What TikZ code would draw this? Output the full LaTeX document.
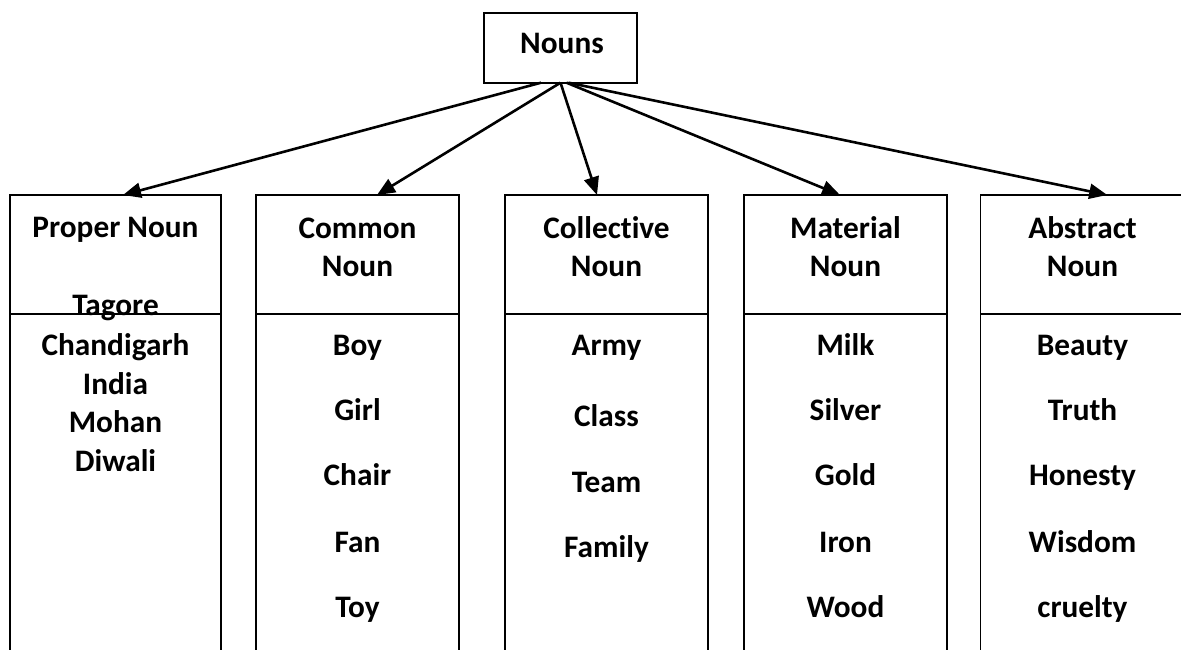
\documentclass[tikz,border=0pt]{standalone}
\usepackage{fontspec}
\setmainfont{Carlito}[Ligatures=NoCommon]
\usetikzlibrary{arrows.meta}
\tikzset{
  frame/.style={draw=black, line width=1.8pt, inner sep=0pt, outer sep=0pt},
  side/.style={draw=black, line width=1.8pt},
  txt/.style={font=\fontsize{31.3}{38}\selectfont\bfseries, anchor=base, inner sep=0pt, outer sep=0pt},
  conn/.style={line width=2.6pt, -{Triangle[length=18pt,width=15pt]}}
}
\begin{document}
\begin{tikzpicture}[x=1pt,y=-1pt]
\useasboundingbox (0,0) rectangle (1181,650);
\clip (0,0) rectangle (1181,650);

% top node
\node[frame, minimum width=153pt, minimum height=70pt] (nouns) at (560.5,47.7) {};
\node[txt] (nounsT) at (562,54) {Nouns};

% column texts
\node[txt] (t1a) at (115.5,237.5) {Proper Noun};
\node[txt] (t1b) at (115.5,315) {Tagore};
\node[txt] (t1c) at (115.5,355) {Chandigarh};
\node[txt] (t1d) at (115.5,394) {India};
\node[txt] (t1e) at (115.5,432.5) {Mohan};
\node[txt] (t1f) at (115.5,471) {Diwali};

\node[txt] (t2a) at (357.5,238) {Common};
\node[txt] (t2b) at (357.5,276) {Noun};
\node[txt] (t2c) at (357.5,355) {Boy};
\node[txt] (t2d) at (357.5,420) {Girl};
\node[txt] (t2e) at (357.5,485) {Chair};
\node[txt] (t2f) at (357.5,552) {Fan};
\node[txt] (t2g) at (357.5,617) {Toy};

\node[txt] (t3a) at (606.5,238) {Collective};
\node[txt] (t3b) at (606.5,276) {Noun};
\node[txt] (t3c) at (606.5,355) {Army};
\node[txt] (t3d) at (606.5,426) {Class};
\node[txt] (t3e) at (606.5,492) {Team};
\node[txt] (t3f) at (606.5,557) {Family};

\node[txt] (t4a) at (845.5,238) {Material};
\node[txt] (t4b) at (845.5,276) {Noun};
\node[txt] (t4c) at (845.5,355) {Milk};
\node[txt] (t4d) at (845.5,420) {Silver};
\node[txt] (t4e) at (845.5,485) {Gold};
\node[txt] (t4f) at (845.5,552) {Iron};
\node[txt] (t4g) at (845.5,617) {Wood};

\node[txt] (t5a) at (1082.5,238) {Abstract};
\node[txt] (t5b) at (1082.5,276) {Noun};
\node[txt] (t5c) at (1082.5,355) {Beauty};
\node[txt] (t5d) at (1082.5,420) {Truth};
\node[txt] (t5e) at (1082.5,485) {Honesty};
\node[txt] (t5f) at (1082.5,552) {Wisdom};
\node[txt] (t5g) at (1082.5,617) {cruelty};

% column header boxes
\node[frame, minimum width=211pt, minimum height=119pt] (c1) at (115.5,254.5) {};
\node[frame, minimum width=203pt, minimum height=119pt] (c2) at (357.5,254.5) {};
\node[frame, minimum width=203pt, minimum height=119pt] (c3) at (606.5,254.5) {};
\node[frame, minimum width=203pt, minimum height=119pt] (c4) at (845.5,254.5) {};
\node[frame, minimum width=203.5pt, minimum height=119pt] (c5) at (1082.25,254.5) {};

% open lower parts of the columns
\foreach \c in {c1,c2,c3,c4,c5}{
  \draw[side] (\c.south west) -- ([yshift=-400pt]\c.south west);
  \draw[side] (\c.south east) -- ([yshift=-400pt]\c.south east);
}

% connectors
\draw[conn] ([xshift=-19.5pt]nouns.south) -- ([xshift=7.5pt]c1.north);
\draw[conn] (nouns.south) -- ([xshift=19.5pt]c2.north);
\draw[conn] (nouns.south) -- ([xshift=-9.5pt]c3.north);
\draw[conn] ([xshift=6pt]nouns.south) -- ([xshift=-5.5pt]c4.north);
\draw[conn] ([xshift=8pt]nouns.south) -- ([xshift=25pt]c5.north);
\end{tikzpicture}
\end{document}
